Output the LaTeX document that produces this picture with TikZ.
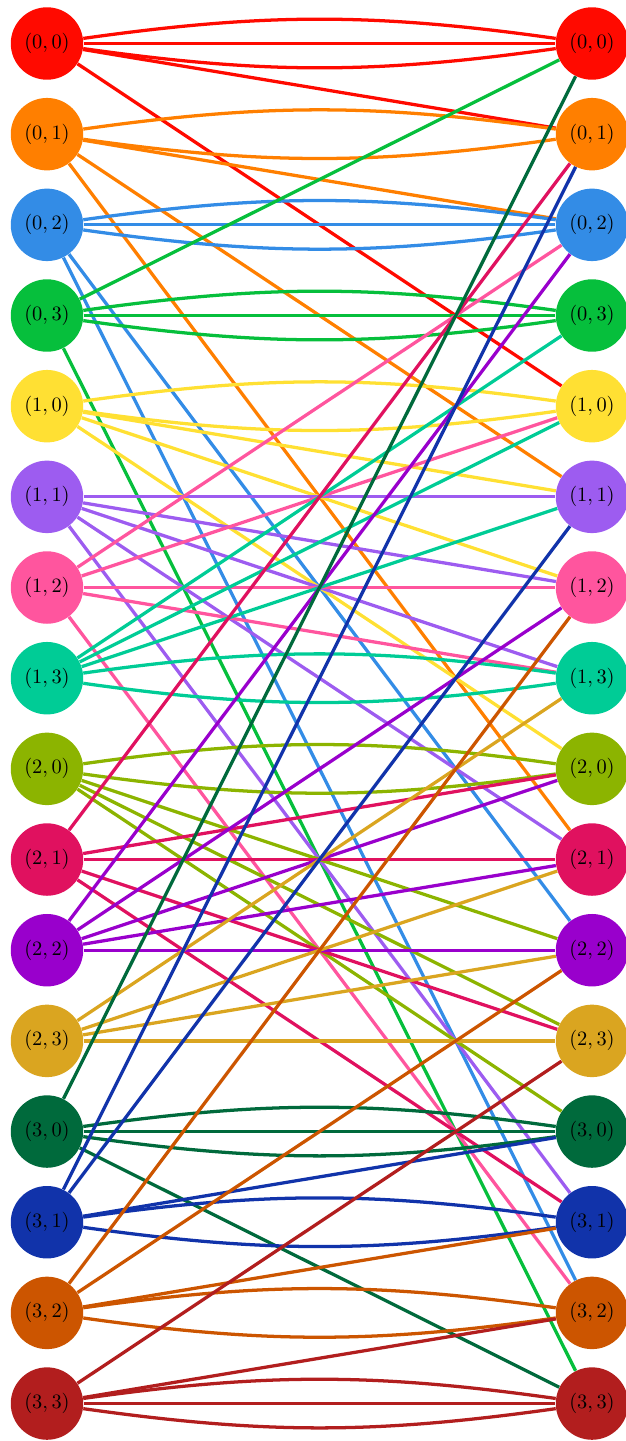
\documentclass[tikz,border=0pt]{standalone}
\begin{document}
\begin{tikzpicture}[x=0.49pt,y=-0.49pt]
\definecolor{c00}{HTML}{FF0A00}
\definecolor{c01}{HTML}{FF7F00}
\definecolor{c02}{HTML}{338CE6}
\definecolor{c03}{HTML}{06BF3C}
\definecolor{c10}{HTML}{FFE033}
\definecolor{c11}{HTML}{9D5CF0}
\definecolor{c12}{HTML}{FF559E}
\definecolor{c13}{HTML}{00CC96}
\definecolor{c20}{HTML}{8CB400}
\definecolor{c21}{HTML}{E0115F}
\definecolor{c22}{HTML}{9900CC}
\definecolor{c23}{HTML}{DAA520}
\definecolor{c30}{HTML}{006A3C}
\definecolor{c31}{HTML}{1133AA}
\definecolor{c32}{HTML}{CC5500}
\definecolor{c33}{HTML}{B21E1E}
\tikzset{
  vtx/.style={circle,minimum size=35.5pt,inner sep=0pt,fill=#1},
  conn/.style={line width=1.6pt,draw=#1},
  bu/.style={bend left=8},
  bd/.style={bend right=8}
}
\useasboundingbox (0,0) rectangle (625,1441);
\foreach \a in {0,...,3}{\foreach \b in {0,...,3}{
  \pgfmathsetmacro\yy{43.5+(4*\a+\b)*90.67}
  \node[vtx=c\a\b] (l\a\b) at (47,\yy) {$(\a,\b)$};
  \node[vtx=c\a\b] (r\a\b) at (592,\yy) {$(\a,\b)$};
}}
% (0,0)
\draw[conn=c00] (l00) to[bu] (r00);
\draw[conn=c00] (l00) -- (r00);
\draw[conn=c00] (l00) to[bd] (r00);
\draw[conn=c00] (l00) -- (r01);
\draw[conn=c00] (l00) -- (r10);
% (0,1)
\draw[conn=c01] (l01) to[bu] (r01);
\draw[conn=c01] (l01) to[bd] (r01);
\draw[conn=c01] (l01) -- (r02);
\draw[conn=c01] (l01) -- (r11);
\draw[conn=c01] (l01) -- (r21);
% (0,2)
\draw[conn=c02] (l02) to[bu] (r02);
\draw[conn=c02] (l02) -- (r02);
\draw[conn=c02] (l02) to[bd] (r02);
\draw[conn=c02] (l02) -- (r22);
\draw[conn=c02] (l02) -- (r32);
% (0,3)
\draw[conn=c03] (l03) to[bu] (r03);
\draw[conn=c03] (l03) -- (r03);
\draw[conn=c03] (l03) to[bd] (r03);
\draw[conn=c03] (l03) -- (r00);
\draw[conn=c03] (l03) -- (r33);
% (1,0)
\draw[conn=c10] (l10) to[bu] (r10);
\draw[conn=c10] (l10) to[bd] (r10);
\draw[conn=c10] (l10) -- (r11);
\draw[conn=c10] (l10) -- (r12);
\draw[conn=c10] (l10) -- (r20);
% (1,1)
\draw[conn=c11] (l11) -- (r11);
\draw[conn=c11] (l11) -- (r12);
\draw[conn=c11] (l11) -- (r13);
\draw[conn=c11] (l11) -- (r21);
\draw[conn=c11] (l11) -- (r31);
% (1,2)
\draw[conn=c12] (l12) -- (r12);
\draw[conn=c12] (l12) -- (r13);
\draw[conn=c12] (l12) -- (r10);
\draw[conn=c12] (l12) -- (r32);
\draw[conn=c12] (l12) -- (r02);
% (1,3)
\draw[conn=c13] (l13) to[bu] (r13);
\draw[conn=c13] (l13) to[bd] (r13);
\draw[conn=c13] (l13) -- (r10);
\draw[conn=c13] (l13) -- (r11);
\draw[conn=c13] (l13) -- (r03);
% (2,0)
\draw[conn=c20] (l20) to[bu] (r20);
\draw[conn=c20] (l20) to[bd] (r20);
\draw[conn=c20] (l20) -- (r22);
\draw[conn=c20] (l20) -- (r23);
\draw[conn=c20] (l20) -- (r30);
% (2,1)
\draw[conn=c21] (l21) -- (r21);
\draw[conn=c21] (l21) -- (r23);
\draw[conn=c21] (l21) -- (r20);
\draw[conn=c21] (l21) -- (r31);
\draw[conn=c21] (l21) -- (r01);
% (2,2)
\draw[conn=c22] (l22) -- (r22);
\draw[conn=c22] (l22) -- (r20);
\draw[conn=c22] (l22) -- (r21);
\draw[conn=c22] (l22) -- (r02);
\draw[conn=c22] (l22) -- (r12);
% (2,3)
\draw[conn=c23] (l23) -- (r23);
\draw[conn=c23] (l23) -- (r21);
\draw[conn=c23] (l23) -- (r22);
\draw[conn=c23] (l23) -- (r13);
% (3,0)
\draw[conn=c30] (l30) to[bu] (r30);
\draw[conn=c30] (l30) -- (r30);
\draw[conn=c30] (l30) to[bd] (r30);
\draw[conn=c30] (l30) -- (r33);
\draw[conn=c30] (l30) -- (r00);
% (3,1)
\draw[conn=c31] (l31) to[bu] (r31);
\draw[conn=c31] (l31) to[bd] (r31);
\draw[conn=c31] (l31) -- (r30);
\draw[conn=c31] (l31) -- (r01);
\draw[conn=c31] (l31) -- (r11);
% (3,2)
\draw[conn=c32] (l32) to[bu] (r32);
\draw[conn=c32] (l32) to[bd] (r32);
\draw[conn=c32] (l32) -- (r31);
\draw[conn=c32] (l32) -- (r12);
\draw[conn=c32] (l32) -- (r22);
% (3,3)
\draw[conn=c33] (l33) to[bu] (r33);
\draw[conn=c33] (l33) -- (r33);
\draw[conn=c33] (l33) to[bd] (r33);
\draw[conn=c33] (l33) -- (r32);
\draw[conn=c33] (l33) -- (r23);
\end{tikzpicture}
\end{document}
